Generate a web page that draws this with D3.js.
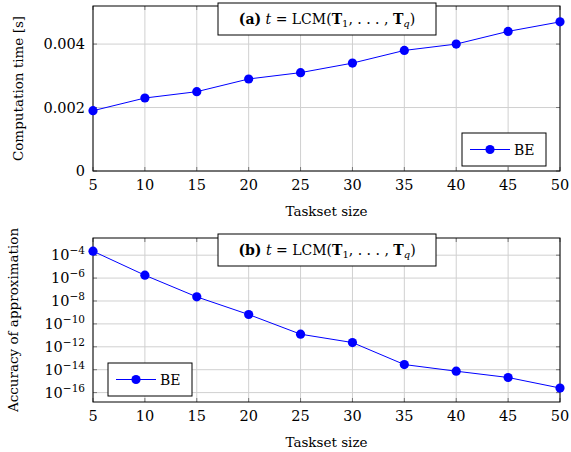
<!DOCTYPE html>
<html>
<head>
<meta charset="utf-8">
<script src="https://cdn.jsdelivr.net/npm/d3@7"></script>
</head>
<body style="margin:0; background:#fff">
<svg id="chart" width="571" height="452"></svg>
<script>
// data
const tasksetSizes = [5, 10, 15, 20, 25, 30, 35, 40, 45, 50];
const computationTime = [0.0019, 0.0023, 0.0025, 0.0029, 0.0031, 0.0034, 0.0038, 0.0040, 0.0044, 0.0047];
const accuracyExp = [-3.65, -5.75, -7.64, -9.18, -10.9, -11.63, -13.55, -14.13, -14.68, -15.6];
const accuracy = accuracyExp.map(e => Math.pow(10, e));
const timeTicks = [0, 0.002, 0.004];
const accTickExps = [-4, -6, -8, -10, -12, -14, -16];
const seriesName = "BE";

const FONT = '"DejaVu Serif", "Liberation Serif", serif';
const svg = d3.select("#chart").style("font-family", FONT);
const left = 93, right = 560;
const blue = "#0000ff";

function txt(sel) {
    return sel.style("font-family", FONT).attr("fill", "#000");
}

function panel(cfg) {
    const g = svg.append("g");
    const x = d3.scaleLinear().domain([5, 50]).range([left, right]);
    const y = cfg.y;

    // grid
    g.selectAll("line.vg").data(tasksetSizes).join("line")
        .attr("x1", d => x(d)).attr("x2", d => x(d))
        .attr("y1", cfg.top).attr("y2", cfg.bottom)
        .attr("stroke", "#d0d0d0").attr("stroke-width", 1);
    g.selectAll("line.hg").data(cfg.ticks).join("line")
        .attr("x1", left).attr("x2", right)
        .attr("y1", d => y(d)).attr("y2", d => y(d))
        .attr("stroke", "#d0d0d0").attr("stroke-width", 1);

    // inner ticks, both sides
    g.selectAll("line.tl").data(cfg.ticks).join("line")
        .attr("x1", left).attr("x2", left + 4)
        .attr("y1", d => y(d)).attr("y2", d => y(d))
        .attr("stroke", "#777");
    g.selectAll("line.tr").data(cfg.ticks).join("line")
        .attr("x1", right - 4).attr("x2", right)
        .attr("y1", d => y(d)).attr("y2", d => y(d))
        .attr("stroke", "#777");
    g.selectAll("line.tb").data(tasksetSizes).join("line")
        .attr("x1", d => x(d)).attr("x2", d => x(d))
        .attr("y1", cfg.bottom - 4).attr("y2", cfg.bottom)
        .attr("stroke", "#777");
    g.selectAll("line.tt").data(tasksetSizes).join("line")
        .attr("x1", d => x(d)).attr("x2", d => x(d))
        .attr("y1", cfg.top).attr("y2", cfg.top + 4)
        .attr("stroke", "#777");

    // frame
    g.append("rect")
        .attr("x", left).attr("y", cfg.top)
        .attr("width", right - left).attr("height", cfg.bottom - cfg.top)
        .attr("fill", "none").attr("stroke", "#000").attr("stroke-width", 1);

    // x tick labels
    g.selectAll("text.xt").data(tasksetSizes).join("text")
        .call(txt)
        .attr("x", d => x(d)).attr("y", cfg.bottom + 19)
        .attr("text-anchor", "middle").style("font-size", "14.5px")
        .text(d => d);

    // y tick labels
    const yl = g.selectAll("text.yt").data(cfg.ticks).join("text")
        .call(txt)
        .attr("x", left - 8).attr("y", d => y(d) + 5)
        .attr("text-anchor", "end").style("font-size", "14.5px");
    cfg.tickText(yl);

    // axis titles
    g.append("text").call(txt)
        .attr("x", (left + right) / 2).attr("y", cfg.bottom + 45)
        .attr("text-anchor", "middle").style("font-size", "13.5px")
        .text("Taskset size");
    g.append("text").call(txt)
        .attr("transform", `translate(${cfg.ylabX}, ${(cfg.top + cfg.bottom) / 2}) rotate(-90)`)
        .attr("text-anchor", "middle").style("font-size", "13.5px")
        .text(cfg.ylabel);

    // series
    const pts = tasksetSizes.map((d, i) => [d, cfg.values[i]]);
    g.append("path")
        .attr("d", d3.line().x(d => x(d[0])).y(d => y(d[1]))(pts))
        .attr("fill", "none").attr("stroke", blue).attr("stroke-width", 1);
    g.selectAll("circle.pt").data(pts).join("circle")
        .attr("cx", d => x(d[0])).attr("cy", d => y(d[1])).attr("r", 4.6)
        .attr("fill", blue);

    // title box
    g.append("rect")
        .attr("x", 218).attr("y", cfg.boxY).attr("width", 218).attr("height", 32)
        .attr("fill", "#fff").attr("stroke", "#000");
    const t = g.append("text").call(txt)
        .attr("x", 327).attr("y", cfg.boxY + 21).attr("text-anchor", "middle")
        .style("font-size", "14px");
    t.append("tspan").attr("font-weight", "bold").text(cfg.tag);
    t.append("tspan").text(" ");
    t.append("tspan").attr("font-style", "italic").text("t");
    t.append("tspan").text(" = LCM(");
    t.append("tspan").attr("font-weight", "bold").text("T");
    t.append("tspan").attr("dy", 3).style("font-size", "10px").text("1");
    t.append("tspan").attr("dy", -3).text(", . . . , ");
    t.append("tspan").attr("font-weight", "bold").text("T");
    t.append("tspan").attr("dy", 3).style("font-size", "10px").attr("font-style", "italic").text("q");
    t.append("tspan").attr("dy", -3).text(")");

    // legend
    const lg = g.append("g").attr("transform", `translate(${cfg.legX}, ${cfg.legY})`);
    lg.append("rect").attr("width", 84).attr("height", 33)
        .attr("fill", "#fff").attr("stroke", "#000");
    lg.append("line").attr("x1", 8).attr("x2", 48).attr("y1", 16.5).attr("y2", 16.5)
        .attr("stroke", blue);
    lg.append("circle").attr("cx", 28).attr("cy", 16.5).attr("r", 4.6).attr("fill", blue);
    lg.append("text").call(txt).attr("x", 52).attr("y", 22).style("font-size", "14px").text(seriesName);
}

panel({
    top: 6, bottom: 171,
    y: d3.scaleLinear().domain([0, 0.0052]).range([171, 6]),
    ticks: timeTicks,
    values: computationTime,
    tickText: sel => sel.text(d => d === 0 ? "0" : d3.format(".3f")(d)),
    ylabel: "Computation time [s]", ylabX: 23,
    tag: "(a)", boxY: 3,
    legX: 462, legY: 133
});

panel({
    top: 238, bottom: 402,
    y: d3.scaleLog().domain([Math.pow(10, -16.82), Math.pow(10, -2.5)]).range([402, 238]),
    ticks: accTickExps.map(e => Math.pow(10, e)),
    values: accuracy,
    tickText: sel => sel.each(function(d) {
        const e = Math.round(Math.log10(d));
        const s = d3.select(this);
        s.append("tspan").text("10");
        s.append("tspan").attr("dy", -6).style("font-size", "10.5px").text("\u2212" + Math.abs(e));
    }),
    ylabel: "Accuracy of approximation", ylabX: 18,
    tag: "(b)", boxY: 234,
    legX: 108, legY: 363
});
</script>
</body>
</html>
